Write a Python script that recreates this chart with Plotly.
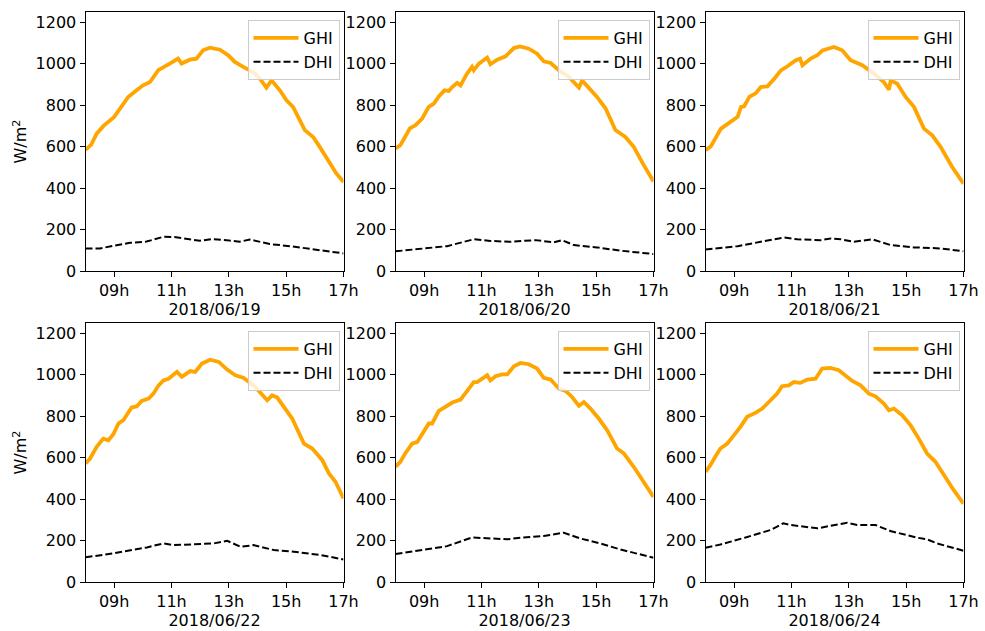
import plotly.graph_objects as go

dates = ["2018/06/19", "2018/06/20", "2018/06/21", "2018/06/22", "2018/06/23", "2018/06/24"]

ghi_t1 = [8.0, 8.2, 8.39, 8.62, 9.0, 9.26, 9.49, 9.78, 10.01, 10.25, 10.54, 10.94, 11.23, 11.35, 11.64, 11.87, 12.1, 12.34, 12.69, 12.98, 13.21, 13.5, 13.85, 14.08, 14.31, 14.49, 14.78, 15.01, 15.24, 15.65, 15.94, 16.17, 16.52, 16.75, 17.0]
ghi_v1 = [585, 610, 663, 699, 744, 792, 840, 872, 896, 912, 969, 1001, 1025, 1001, 1020, 1025, 1065, 1078, 1068, 1041, 1009, 985, 960, 929, 885, 920, 872, 824, 792, 680, 647, 599, 519, 471, 430]
dhi_t1 = [8.0, 8.5, 9.55, 10.13, 10.71, 11.1, 11.99, 12.45, 12.92, 13.38, 13.73, 14.43, 15.13, 15.94, 17.0]
dhi_v1 = [109, 109, 136, 142, 165, 164, 146, 154, 149, 141, 152, 130, 120, 104, 85]

ghi_t2 = [8.0, 8.17, 8.5, 8.7, 8.93, 9.16, 9.34, 9.51, 9.71, 9.86, 9.98, 10.15, 10.27, 10.48, 10.67, 10.73, 10.91, 11.2, 11.31, 11.55, 11.84, 12.13, 12.34, 12.65, 12.94, 13.17, 13.41, 13.7, 14.05, 14.4, 14.51, 14.74, 15.03, 15.33, 15.67, 16.02, 16.31, 16.66, 17.0]
ghi_v2 = [591, 607, 688, 704, 736, 792, 808, 843, 872, 869, 888, 908, 896, 949, 985, 969, 1001, 1030, 998, 1020, 1036, 1076, 1084, 1073, 1049, 1012, 1004, 969, 937, 885, 920, 885, 840, 784, 680, 647, 599, 511, 432]
dhi_t2 = [8.0, 8.99, 9.8, 10.73, 11.31, 12.01, 12.88, 13.52, 13.81, 14.22, 15.03, 15.85, 17.0]
dhi_v2 = [95, 109, 120, 153, 145, 141, 149, 138, 149, 125, 114, 98, 82]

ghi_t3 = [8.0, 8.19, 8.54, 8.77, 9.12, 9.24, 9.35, 9.53, 9.76, 9.93, 10.16, 10.4, 10.63, 10.86, 11.15, 11.3, 11.38, 11.67, 11.9, 12.08, 12.48, 12.77, 13.06, 13.47, 13.88, 14.22, 14.4, 14.46, 14.69, 14.98, 15.27, 15.62, 15.91, 16.2, 16.6, 17.0]
ghi_v3 = [583, 602, 687, 711, 744, 792, 795, 840, 859, 888, 891, 928, 968, 988, 1017, 1025, 993, 1025, 1041, 1065, 1081, 1065, 1017, 993, 952, 912, 875, 920, 904, 840, 792, 687, 655, 599, 503, 422]
dhi_t3 = [8.0, 9.12, 9.93, 10.74, 11.2, 12.02, 12.37, 12.72, 13.18, 13.82, 14.46, 15.27, 16.2, 17.0]
dhi_v3 = [104, 120, 141, 162, 153, 149, 157, 153, 141, 153, 125, 114, 109, 95]

ghi_t4 = [8.0, 8.16, 8.39, 8.62, 8.8, 8.97, 9.15, 9.32, 9.61, 9.79, 9.96, 10.2, 10.37, 10.55, 10.72, 10.9, 11.19, 11.36, 11.65, 11.83, 12.06, 12.35, 12.65, 12.94, 13.23, 13.52, 13.87, 14.16, 14.34, 14.51, 14.69, 14.92, 15.21, 15.62, 15.91, 16.26, 16.49, 16.72, 17.0]
ghi_v4 = [572, 596, 652, 692, 684, 713, 765, 781, 842, 848, 874, 885, 909, 949, 973, 981, 1014, 990, 1018, 1014, 1054, 1073, 1062, 1025, 998, 985, 949, 906, 877, 901, 890, 845, 789, 668, 644, 588, 524, 484, 403]
dhi_t4 = [8.0, 8.97, 10.14, 10.72, 11.07, 12.0, 12.47, 12.94, 13.41, 13.87, 14.57, 15.27, 16.2, 17.0]
dhi_v4 = [119, 138, 167, 186, 178, 183, 186, 199, 170, 178, 154, 146, 130, 109]

ghi_t5 = [8.0, 8.17, 8.35, 8.58, 8.76, 8.93, 9.16, 9.28, 9.51, 9.74, 9.98, 10.27, 10.56, 10.73, 10.85, 11.2, 11.31, 11.49, 11.72, 11.9, 12.13, 12.36, 12.65, 12.94, 13.17, 13.41, 13.7, 13.93, 14.16, 14.4, 14.57, 14.8, 15.09, 15.38, 15.73, 15.97, 16.31, 16.6, 17.0]
ghi_v5 = [556, 580, 623, 668, 676, 713, 765, 765, 826, 845, 866, 880, 938, 965, 965, 998, 973, 993, 1002, 1002, 1041, 1057, 1051, 1030, 985, 977, 933, 922, 893, 850, 869, 837, 789, 733, 644, 620, 556, 492, 411]
dhi_t5 = [8.0, 8.99, 9.8, 10.67, 11.31, 11.9, 12.36, 13.17, 13.87, 14.45, 15.15, 15.85, 17.0]
dhi_v5 = [135, 157, 173, 215, 210, 206, 214, 222, 238, 210, 186, 157, 117]

ghi_t6 = [8.0, 8.17, 8.35, 8.52, 8.76, 8.99, 9.22, 9.45, 9.74, 9.98, 10.27, 10.5, 10.67, 10.91, 11.08, 11.31, 11.55, 11.84, 12.07, 12.36, 12.65, 12.88, 13.12, 13.41, 13.7, 13.93, 14.22, 14.4, 14.57, 14.86, 15.15, 15.44, 15.73, 16.02, 16.31, 16.66, 17.0]
ghi_v6 = [532, 564, 607, 644, 668, 708, 749, 797, 816, 837, 874, 909, 945, 949, 965, 961, 977, 981, 1030, 1033, 1022, 998, 970, 949, 909, 896, 861, 829, 837, 805, 757, 692, 620, 580, 516, 443, 378]
dhi_t6 = [8.0, 8.52, 9.4, 10.27, 10.71, 10.97, 11.9, 12.36, 12.94, 13.29, 13.93, 14.45, 15.38, 15.73, 16.08, 17.0]
dhi_v6 = [165, 181, 215, 251, 283, 275, 259, 270, 286, 275, 275, 246, 214, 206, 186, 151]

ghi_t = [ghi_t1, ghi_t2, ghi_t3, ghi_t4, ghi_t5, ghi_t6]
ghi_v = [ghi_v1, ghi_v2, ghi_v3, ghi_v4, ghi_v5, ghi_v6]
dhi_t = [dhi_t1, dhi_t2, dhi_t3, dhi_t4, dhi_t5, dhi_t6]
dhi_v = [dhi_v1, dhi_v2, dhi_v3, dhi_v4, dhi_v5, dhi_v6]

x_tickvals = [9, 11, 13, 15, 17]
x_ticktext = ["09h", "11h", "13h", "15h", "17h"]
y_tickvals = [0, 200, 400, 600, 800, 1000, 1200]

W, H = 985, 631
col_px = [(85.5, 343.5), (395.5, 653.5), (705.5, 963.5)]
row_px = [(12, 271), (323, 582)]

FONT = "DejaVu Sans"
fig = go.Figure()
layout = dict(
    template="none",
    width=W, height=H, margin=dict(l=0, r=0, t=0, b=0, pad=0, autoexpand=False),
    paper_bgcolor="white", plot_bgcolor="white",
    font=dict(family=FONT, size=16, color="black"),
)

for i in range(6):
    r, c = divmod(i, 3)
    n = "" if i == 0 else str(i + 1)
    xa, ya = "x" + n, "y" + n
    lg = "legend" + n
    fig.add_trace(go.Scatter(x=ghi_t[i], y=ghi_v[i], mode="lines", name="GHI",
                             line=dict(color="#FFA500", width=3.8), xaxis=xa, yaxis=ya,
                             legend=lg, showlegend=True))
    fig.add_trace(go.Scatter(x=dhi_t[i], y=dhi_v[i], mode="lines", name="DHI",
                             line=dict(color="black", width=2, dash="7px,3px"), xaxis=xa, yaxis=ya,
                             legend=lg, showlegend=True))
    x0, x1 = col_px[c]
    y0, y1 = row_px[r]
    axcommon = dict(showline=True, mirror=True, linecolor="black", linewidth=1,
                    ticks="outside", ticklen=5, tickcolor="black", tickwidth=1,
                    showgrid=False, zeroline=False, automargin=False,
                    tickfont=dict(size=16, family=FONT))
    layout["xaxis" + n] = dict(domain=[x0 / W, x1 / W], anchor=ya, range=[8, 17],
                               tickvals=x_tickvals, ticktext=x_ticktext,
                               title=dict(text=dates[i], standoff=0, font=dict(size=16)),
                               **axcommon)
    yd = dict(domain=[1 - y1 / H, 1 - y0 / H], anchor=xa, range=[0, 1250],
              tickvals=y_tickvals, **axcommon)
    if c == 0:
        yd["title"] = dict(text="W/m<sup>2</sup>", standoff=4, font=dict(size=16))
    layout["yaxis" + n] = yd
    layout[lg] = dict(x=(x1 - 4) / W, y=1 - (y0 + 8) / H, xanchor="right", yanchor="top",
                      bgcolor="rgba(255,255,255,0.8)", bordercolor="#cccccc", borderwidth=1,
                      font=dict(size=16, family=FONT), tracegroupgap=0, itemwidth=45)

fig.update_layout(**layout)
fig.write_html("out.html")
